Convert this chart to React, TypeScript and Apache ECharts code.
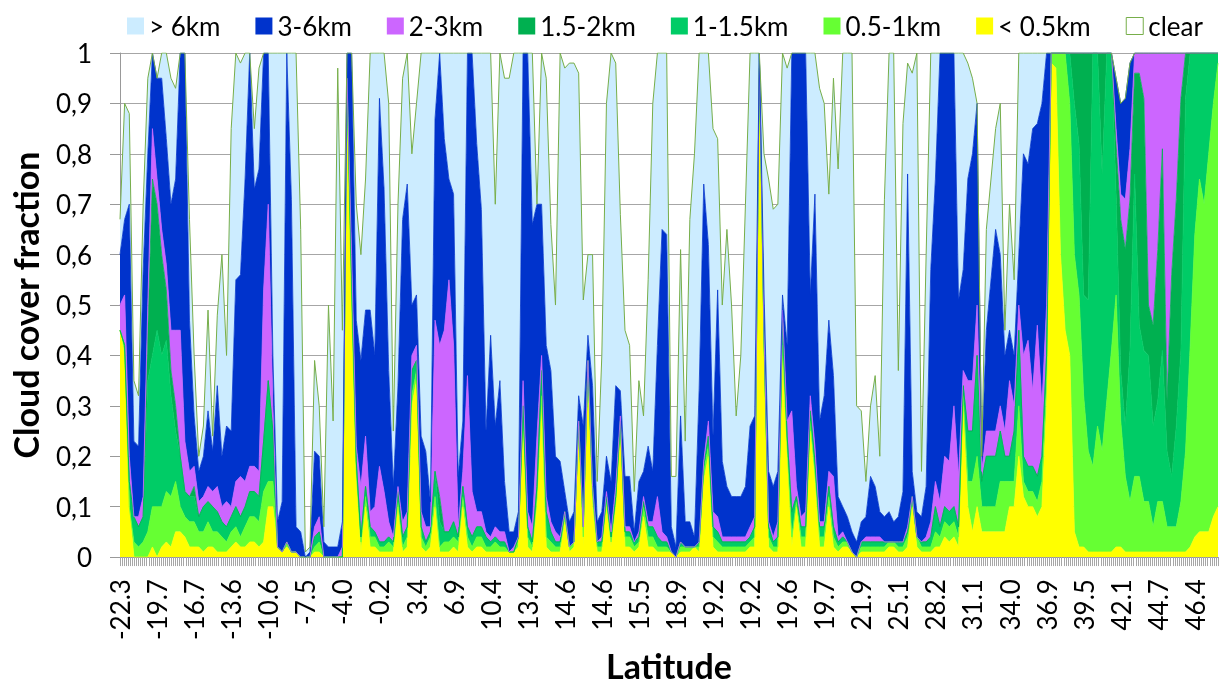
import React, { useEffect, useRef } from 'react';
import * as echarts from 'echarts';

// Latitude tick labels (one every `perLabel` samples)
const latLabels = ['-22.3','-19.7','-16.7','-13.6','-10.6','-7.5','-4.0','-0.2','3.4','6.9','10.4','13.4','14.6','14.6','15.5','18.9','19.2','19.2','19.6','19.7','21.9','25.1','28.2','31.1','34.0','36.9','39.5','42.1','44.7','46.4'];
const perLabel = 8;
const minorTickCount = 535;

// Cloud cover fraction per height class (stacked, bottom to top)
const lt05km = [
  .45,.4,.1,0,0,0,0,.02,
  0,.02,.03,.02,.05,.05,.04,.02,
  .02,.02,.01,.02,.02,.01,.01,.01,
  .02,.03,.02,.02,.03,.03,.02,.03,
  .1,.1,.02,.01,.02,.01,.01,0,
  0,0,.01,.01,0,0,0,0,
  0,.9,.5,.15,.01,.1,.02,.02,
  .01,.01,.01,.01,.1,.01,.02,.3,
  .35,.02,.01,.02,.1,.01,.01,.01,
  .02,.01,.1,.02,.01,.02,.02,.01,
  .01,.01,.01,.01,.01,.01,.02,.25,
  .02,.01,.1,.3,.02,.01,.01,.01,
  .07,.01,.02,.25,.02,.35,.1,.01,
  .01,.1,.02,.1,.25,.02,.02,.01,
  .02,.08,.02,.02,.01,.01,.01,.01,
  0,.01,.01,.01,.02,.01,.15,.2,
  .02,.01,.01,.01,.01,.01,.01,.01,
  .02,.02,.95,.4,.02,.01,.01,.4,
  .2,.02,.1,.02,.02,.25,.15,.02,
  .02,.1,.02,.01,.02,.02,.01,0,
  .01,.01,.01,.01,.01,.01,.02,.02,
  .01,.01,.02,.1,.02,.01,.01,.01,
  .02,.02,.04,.03,.04,.02,.3,.1,
  .05,.1,.05,.05,.05,.05,.05,.05,
  .1,.1,.2,.12,.1,.1,.08,.1,
  .3,.98,.97,.6,.45,.4,.05,.02,
  .02,.01,.01,.01,.01,.01,.01,.02,
  .02,.01,.01,.01,.01,.01,.01,.01,
  .01,.01,.01,.01,.01,.01,.01,.02,
  .04,.05,.05,.05,.08,.1,
];
const km05to1 = [
  0,.02,0,.03,.02,.03,.05,.08,
  .1,.08,.1,.1,.1,.05,.04,.05,
  .05,.03,.04,.05,.03,.04,.03,.02,
  .03,.03,.02,.04,.05,.05,.05,.1,
  .05,.05,0,0,.01,0,0,0,
  0,0,.01,.02,0,0,0,0,
  0,.02,0,.02,.02,.02,.02,.02,
  .01,.01,.02,.01,.01,.01,.02,.02,
  .02,.02,.01,.02,.02,.01,.02,.02,
  .02,.02,.02,.02,.01,.02,.02,.01,
  .01,.02,.01,.01,0,0,.02,.03,
  .02,.01,.02,.02,.02,.02,.01,.01,
  .01,.01,.01,.01,.02,.02,.02,.01,
  .01,.01,.01,.01,.01,.02,.02,.01,
  .01,.02,.02,.02,.01,.01,.01,0,
  0,.01,.01,.01,0,.01,.02,.02,
  .02,.02,.01,.01,.01,.01,.01,.01,
  .01,.02,.02,.02,.02,.01,.01,.02,
  .02,.02,.01,.02,.02,.02,.02,.02,
  .02,.02,.02,.01,.01,.01,0,0,
  .01,.01,.01,.01,.01,.01,.01,.01,
  .01,.01,.02,.01,.02,.01,.01,.01,
  .03,.02,.03,.03,.03,.02,.02,.05,
  .1,.1,.05,.05,.05,.05,.1,.1,
  .05,.05,.1,.03,.03,.03,.03,.05,
  .05,.02,.03,.4,.55,.5,.55,.5,
  .3,.2,.17,.25,.2,.3,.4,.5,
  .25,.15,.1,.15,.15,.1,.1,.05,
  .1,.1,.05,.05,.05,.1,.2,.4,
  .6,.7,.65,.75,.82,.88,
];
const km1to15 = [
  0,0,.05,.05,.04,.05,.3,.3,
  .35,.3,.3,.2,.1,.1,.05,.05,
  .05,.03,.05,.04,.05,.04,.03,.03,
  .03,.04,.04,.04,.05,.05,.05,.1,
  .2,.1,0,0,0,0,0,0,
  0,0,.02,.02,0,0,0,0,
  0,.03,.05,.02,.01,.02,.02,.01,
  .01,.01,.01,.01,.02,.02,.02,.05,
  .02,.02,.01,.01,.05,.05,.02,.02,
  .03,.01,.02,.02,.02,.02,.02,.02,
  .01,.01,.01,.01,0,0,0,.02,
  .02,.01,.02,.05,.05,.02,.01,.01,
  .01,0,0,.01,.02,.02,.02,.01,
  .01,.01,.01,.01,.01,.01,.01,.01,
  .01,.01,.02,.02,.02,.01,.01,0,
  0,.01,0,0,0,.01,.01,.02,
  .02,.02,.01,.01,.01,.01,.01,.01,
  .01,.02,.03,.02,.02,.01,.02,.05,
  .02,.05,.01,.02,.02,.02,.02,.02,
  .02,.02,.02,.01,.01,0,0,0,
  .01,.01,.01,.01,.01,.01,0,0,
  .01,.01,.01,.01,0,.01,.01,.02,
  .05,.02,.03,.03,.03,.02,.02,.1,
  .1,.2,.05,.1,.1,.1,.1,.05,
  .05,.1,.15,.05,.05,.05,.05,.05,
  .05,0,0,0,0,.1,.3,.3,
  .2,.3,.82,.74,.55,.69,.59,.2,
  .1,.1,.3,.6,.3,.3,.29,.2,
  .2,.3,.15,.1,.2,.3,.7,.58,
  .36,.25,.3,.2,.1,.02,
];
const km15to2 = [
  0,0,0,0,0,0,.1,.35,
  .25,.2,.1,.05,.05,0,0,0,
  .02,0,0,0,0,0,0,0,
  0,0,0,0,0,0,0,0,
  0,0,0,0,0,0,0,0,
  0,0,0,0,0,0,0,0,
  0,0,0,0,0,0,0,0,
  0,0,0,0,0,0,0,0,
  0,0,0,0,0,.05,0,0,
  0,0,0,0,0,0,0,0,
  0,0,0,0,0,0,0,0,
  0,0,0,0,0,0,0,0,
  0,0,0,0,0,0,0,0,
  0,0,0,0,0,0,0,0,
  0,0,0,0,0,0,0,0,
  0,0,0,0,0,0,0,0,
  0,0,0,0,0,0,0,0,
  0,0,0,0,0,0,0,0,
  0,0,0,0,0,0,0,0,
  0,0,0,0,0,0,0,0,
  0,0,0,0,0,0,0,0,
  0,0,0,0,0,0,0,0,
  0,0,0,0,0,0,0,0,
  0,0,0,0,0,0,0,0,
  0,0,0,0,0,0,0,0,
  0,0,0,0,0,0,.1,.18,
  .48,.49,0,0,.24,0,0,.1,
  .3,.35,.3,.2,.5,.5,.1,.2,
  .3,.4,.1,.4,.45,.5,.09,0,
  0,0,0,0,0,0,
];
const km2to3 = [
  .05,.1,.05,0,.02,.04,.05,.1,
  .05,.05,.05,.08,.15,.25,.1,.05,
  .04,.03,.02,.03,.03,.05,.03,.05,
  .02,.05,.08,.05,.05,.05,.05,.3,
  .35,.05,0,0,0,0,0,0,
  0,0,.02,.03,0,0,0,0,
  .02,0,.05,.03,.1,.1,.03,.05,
  .15,.1,.03,.01,.01,.03,.03,.03,
  .03,.03,.03,.01,.3,.3,.4,.5,
  .35,.02,.03,.3,.09,.03,.03,.01,
  .01,.02,.02,.02,0,.01,0,.05,
  .03,.03,.1,.03,.03,.02,.02,.01,
  0,0,0,0,0,0,0,0,
  .01,.01,.01,.02,.01,.01,.01,0,
  .01,.01,.01,.01,.08,.02,.01,0,
  0,0,0,0,0,0,.01,.03,
  .03,.03,.01,.01,.01,.01,.01,.01,
  .02,.02,0,.01,.01,.01,.03,.02,
  .03,.2,.02,.02,.03,.03,.03,.01,
  .01,.03,.1,.01,.01,0,0,0,
  0,.01,.01,.01,.01,0,0,0,
  0,0,.01,0,0,0,.01,.03,
  .05,.05,.1,.1,.2,.1,.03,.1,
  .1,.1,.02,.05,.05,.05,.05,.05,
  .15,.05,.05,.2,.25,.15,.3,.1,
  .1,0,0,0,0,0,0,0,
  0,0,0,0,0,0,0,.03,
  .05,.1,.1,.04,.04,.09,.5,.54,
  .39,.19,.69,.44,.29,.09,0,0,
  0,0,0,0,0,0,
];
const km3to6 = [
  .1,.15,.5,.15,.14,.45,.3,.15,
  .2,.3,.25,.25,.3,.55,.77,.3,
  .1,.06,.08,.15,.08,.2,.1,.15,
  .15,.4,.4,.6,.82,.55,.6,.47,
  .3,.1,.05,.1,.97,.7,.05,.05,
  0,.01,.15,.12,.03,.02,.02,.02,
  .05,.05,.4,.25,.25,.25,.4,.3,
  .73,.6,.3,.1,.2,.6,.65,.1,
  .1,.15,.15,.05,.4,.58,.38,.2,
  .3,.1,.1,.64,.87,.73,.6,.2,
  .4,.2,.3,.1,.04,.03,.05,.65,
  .91,.6,.46,.3,.3,.3,.15,.15,
  .04,.05,.06,.05,.2,.05,.2,.04,
  .05,.07,.1,.2,.05,.1,.1,.02,
  .1,.05,.15,.1,.3,.6,.6,.05,
  .02,.25,.05,.05,.02,.3,.55,.35,
  .15,.45,.15,.1,.08,.08,.08,.1,
  .2,.2,0,.08,.1,.1,.1,.03,
  .15,.71,.86,.92,.91,.2,.5,.2,
  .25,.3,.2,.08,.05,.05,.04,.03,
  .04,.04,.12,.1,.05,.05,.06,.04,
  .05,.1,.7,.05,.05,.05,.1,.5,
  .6,.89,.8,.81,.7,.35,.2,.4,
  .45,.4,.03,.2,.3,.4,.3,.15,
  .1,.1,.1,.4,.35,.52,.4,.6,
  .5,0,0,0,0,0,0,0,
  0,0,0,0,0,0,0,.1,
  .18,.2,.17,0,0,0,0,0,
  0,0,0,0,0,0,0,0,
  0,0,0,0,0,0,
];
const gt6km = [
  .07,.23,.18,.12,.1,.13,.15,0,
  0,.05,.17,.25,.18,0,0,.2,
  .12,.03,.06,.2,.03,.14,.4,.14,
  .6,.45,.42,.25,0,.12,.2,0,
  0,.6,.93,.89,0,.29,.94,.6,
  .01,.01,.18,.1,.03,.48,.25,.95,
  .38,0,0,.23,.21,.26,.51,.6,
  .09,.27,.53,.11,.36,.28,.26,.3,
  .38,.76,.79,.89,.13,0,.17,.25,
  .28,.84,.73,0,0,.18,.31,.75,
  .56,.44,.65,.8,.9,.95,.91,0,
  0,.34,0,.3,.53,.29,.3,.81,
  .84,.91,.89,.64,.25,.16,.26,.08,
  .31,.7,.85,.64,.35,.29,.26,.08,
  .2,.11,.33,.73,.58,.35,.36,.1,
  .14,.33,.16,.6,.76,.67,.26,.38,
  .61,.3,.31,.51,.38,.16,.28,.56,
  .74,.72,0,.27,.58,.55,.53,.48,
  .55,0,0,0,0,.48,.28,.66,
  .58,.25,.59,.65,.9,.92,.95,.27,
  .22,.07,.14,.22,.11,.63,.91,.93,
  .29,.73,.22,.79,.91,.09,.46,.43,
  .25,0,0,0,0,.49,.43,.23,
  .15,0,0,.2,.2,.2,.3,.05,
  .25,.15,.4,.2,.22,.15,.14,.1,
  0,0,0,0,0,0,0,0,
  0,0,0,0,0,0,0,0,
  0,0,0,0,0,0,0,0,
  0,0,0,0,0,0,0,0,
  0,0,0,0,0,0,
];

const seriesDefs = [
  { name: '< 0.5km', data: lt05km, color: '#FFFF00' },
  { name: '0.5-1km', data: km05to1, color: '#66FF33' },
  { name: '1-1.5km', data: km1to15, color: '#00CC66' },
  { name: '1.5-2km', data: km15to2, color: '#00B050' },
  { name: '2-3km', data: km2to3, color: '#CC66FF' },
  { name: '3-6km', data: km3to6, color: '#0033CC' },
  { name: '> 6km', data: gt6km, color: '#CCECFF' },
];
const outline = '#77AE4A';

export default function App() {
  const ref = useRef<HTMLDivElement>(null);
  useEffect(() => {
    const chart = echarts.init(ref.current!, undefined, { renderer: 'svg' });
    const n = lt05km.length;
    const categories = Array.from({ length: n }, (_, i) =>
      i % perLabel === 0 ? latLabels[i / perLabel] ?? '' : ''
    );
    const clear = Array.from({ length: n }, (_, i) => {
      const tot = seriesDefs.reduce((s, d) => s + d.data[i], 0);
      return Math.max(0, +(1 - tot).toFixed(2));
    });
    const font = 'Lato, "Open Sans", sans-serif';
    const series: any[] = seriesDefs.map((d) => ({
      name: d.name,
      type: 'line',
      stack: 'cloud',
      data: d.data,
      symbol: 'none',
      color: d.color,
      areaStyle: { color: d.color, opacity: 1 },
      lineStyle: d.name === '> 6km' ? { color: outline, width: 1 } : { color: d.color, width: 0.8 },
      itemStyle: { color: d.color },
      emphasis: { disabled: true },
    }));
    series.push({
      name: 'clear',
      type: 'line',
      stack: 'cloud',
      data: clear,
      symbol: 'none',
      color: '#FFFFFF',
      areaStyle: { opacity: 0 },
      lineStyle: { width: 0 },
      itemStyle: { color: '#FFFFFF', borderColor: outline, borderWidth: 1 },
      emphasis: { disabled: true },
    });
    const legendOrder = ['> 6km', '3-6km', '2-3km', '1.5-2km', '1-1.5km', '0.5-1km', '< 0.5km', 'clear'];
    const colorOf = (nm: string) => seriesDefs.find((d) => d.name === nm)?.color ?? '#FFFFFF';
    chart.setOption({
      animation: false,
      textStyle: { fontFamily: font },
      legend: {
        left: 122,
        top: 8,
        itemWidth: 17,
        itemHeight: 17,
        itemGap: 35,
        icon: 'rect',
        textStyle: { fontSize: 26, color: '#000', fontFamily: font },
        data: legendOrder.map((nm) => ({
          name: nm,
          itemStyle: nm === 'clear'
            ? { color: '#FFFFFF', borderColor: outline, borderWidth: 1 }
            : { color: colorOf(nm), borderWidth: 0 },
          lineStyle: { width: 0 },
        })),
      },
      grid: { left: 120, right: 2, top: 53, bottom: 121, containLabel: false },
      xAxis: [
        {
          type: 'category',
          data: categories,
          boundaryGap: false,
          position: 'bottom',
          name: 'Latitude',
          nameLocation: 'middle',
          nameGap: 88,
          nameTextStyle: { fontSize: 34, fontWeight: 'bold', color: '#000', fontFamily: font },
          axisLine: { lineStyle: { color: '#999', width: 1 } },
          axisTick: { show: false },
          axisLabel: {
            interval: perLabel - 1,
            rotate: 90,
            fontSize: 26,
            color: '#000',
            margin: 22,
            fontFamily: font,
          },
          splitLine: { show: false },
        },
        {
          type: 'category',
          data: Array.from({ length: minorTickCount }, () => ''),
          boundaryGap: false,
          position: 'bottom',
          axisLine: { show: false },
          axisTick: { show: true, interval: 0, length: 9, lineStyle: { color: '#A6A6A6', width: 1 } },
          axisLabel: { show: false },
          splitLine: { show: false },
        },
      ],
      yAxis: {
        type: 'value',
        min: 0,
        max: 1,
        interval: 0.1,
        name: 'Cloud cover fraction',
        nameLocation: 'middle',
        nameGap: 78,
        nameTextStyle: { fontSize: 34, fontWeight: 'bold', color: '#000', fontFamily: font },
        axisLine: { show: true, lineStyle: { color: '#999', width: 1 } },
        axisTick: { show: true, length: 10, lineStyle: { color: '#999' } },
        axisLabel: {
          fontSize: 26,
          color: '#000',
          margin: 28,
          fontFamily: font,
          formatter: (v: number) => String(+v.toFixed(1)).replace('.', ','),
        },
        splitLine: { show: true, lineStyle: { color: '#A6A6A6', width: 1 } },
      },
      series,
    });
    return () => chart.dispose();
  }, []);
  return <div ref={ref} style={{ position: 'fixed', left: 0, top: 0, width: 1220, height: 687 }} />;
}
